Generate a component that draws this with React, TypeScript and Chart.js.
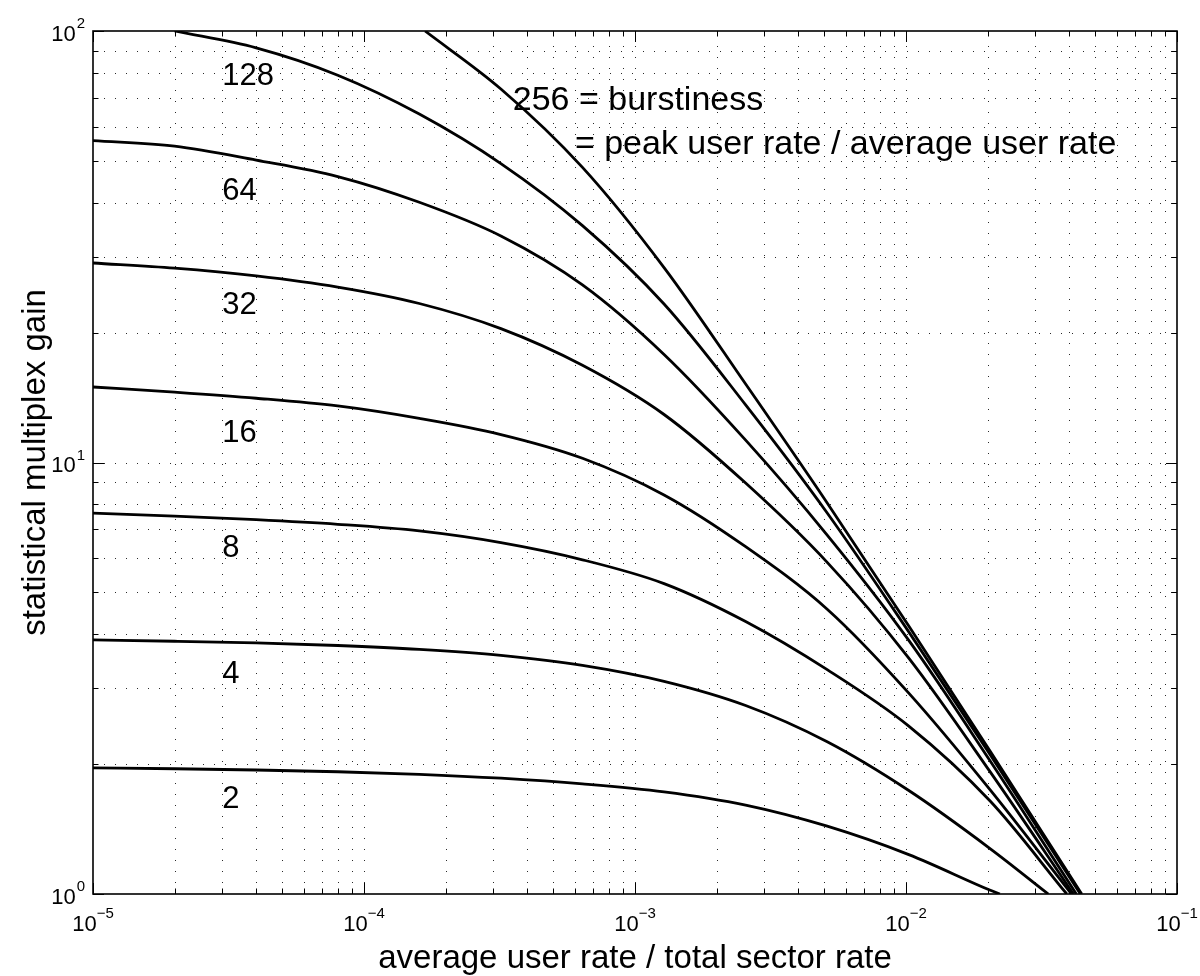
import React, { useEffect, useRef } from "react";
import { Chart, registerables } from "chart.js";

Chart.register(...registerables);

// ---- data (x = average user rate / total sector rate, y = gain) ----
const rates = [1e-5, 2e-5, 4e-5, 8e-5, 1.6e-4, 3.2e-4, 6.4e-4, 1.28e-3, 2.56e-3, 5.12e-3, 1.024e-2, 2.048e-2];

const x2 = [...rates, 0.0222];
const gain2 = [1.96, 1.951, 1.938, 1.92, 1.894, 1.855, 1.8, 1.725, 1.607, 1.436, 1.234, 1.02, 1];

const x4 = [...rates, 0.0335];
const gain4 = [3.88, 3.853, 3.818, 3.766, 3.689, 3.572, 3.387, 3.11, 2.734, 2.253, 1.737, 1.273, 1];

const x8 = [...rates, 0.0392];
const gain8 = [7.63, 7.51, 7.37, 7.19, 6.94, 6.52, 5.95, 5.24, 4.28, 3.31, 2.45, 1.64, 1];

const x16 = [...rates, 0.0408];
const gain16 = [14.96, 14.55, 14.09, 13.52, 12.65, 11.61, 10.23, 8.41, 6.38, 4.57, 2.92, 1.74, 1];

const x32 = [...rates, 0.0415];
const gain32 = [29.0, 28.21, 27.06, 25.49, 23.36, 20.43, 16.8, 12.92, 8.96, 5.87, 3.52, 1.916, 1];

const x64 = [...rates, 0.0425];
const gain64 = [55.7, 54.1, 50.2, 46.0, 40.1, 33.5, 25.8, 17.8, 11.27, 6.79, 3.87, 2.03, 1];

const x128 = [2e-5, 4e-5, 8e-5, 1.6e-4, 3.2e-4, 6.4e-4, 1.28e-3, 2.56e-3, 5.12e-3, 1.024e-2, 2.048e-2, 0.044];
const gain128 = [100, 91.4, 79.0, 64.2, 49.3, 35.4, 23.3, 13.6, 7.64, 4.05, 2.1, 1];

const x256 = [1.68e-4, 3.2e-4, 6.4e-4, 1.28e-3, 2.56e-3, 5.12e-3, 1.024e-2, 2.048e-2, 0.0445];
const gain256 = [100, 73.4, 48.3, 28.3, 15.2, 8.06, 4.18, 2.14, 1];

// curve labels (text anchored in data space)
const curveLabels = ["128", "64", "32", "16", "8", "4", "2"];
const curveLabelX = 3e-5;
const curveLabelY = [75.0, 40.6, 22.1, 11.17, 6.05, 3.08, 1.58];

const noteLines = ["256 = burstiness", "= peak user rate / average user rate"];
const noteX = [3.54e-4, 6.0e-4];
const noteY = [65.5, 51.8];

// axes
const xMajorExp = [-5, -4, -3, -2, -1];
const yMajorExp = [0, 1, 2];
const xTitle = "average user rate / total sector rate";
const yTitle = "statistical multiplex gain";

const FONT = "'Liberation Sans', Arial, Helvetica, sans-serif";

function logTicks(minExp: number, maxExp: number) {
  const major: number[] = [];
  const minor: number[] = [];
  for (let e = minExp; e <= maxExp; e++) {
    major.push(Math.pow(10, e));
    if (e < maxExp) for (let k = 2; k <= 9; k++) minor.push(k * Math.pow(10, e));
  }
  return { major, minor };
}

function expText(e: number) {
  return e < 0 ? "\u2212" + String(-e) : String(e);
}

const matlabAxes = {
  id: "matlabAxes",
  beforeDatasetsDraw(chart: any) {
    const { ctx, chartArea: a, scales } = chart;
    const xs = scales.x;
    const ys = scales.y;
    const xt = logTicks(-5, -1);
    const yt = logTicks(0, 2);
    ctx.save();
    ctx.strokeStyle = "#2a2a2a";
    ctx.lineWidth = 1;
    ctx.setLineDash([1, 10]);
    [...xt.major, ...xt.minor].forEach((v) => {
      const px = Math.round(xs.getPixelForValue(v)) + 0.5;
      if (px <= a.left + 1 || px >= a.right - 1) return;
      ctx.beginPath();
      ctx.moveTo(px, a.bottom);
      ctx.lineTo(px, a.top);
      ctx.stroke();
    });
    [...yt.major, ...yt.minor].forEach((v) => {
      const py = Math.round(ys.getPixelForValue(v)) + 0.5;
      if (py <= a.top + 1 || py >= a.bottom - 1) return;
      ctx.beginPath();
      ctx.moveTo(a.left, py);
      ctx.lineTo(a.right, py);
      ctx.stroke();
    });
    ctx.restore();
  },
  afterDatasetsDraw(chart: any) {
    const { ctx, chartArea: a, scales } = chart;
    const xs = scales.x;
    const ys = scales.y;
    const xt = logTicks(-5, -1);
    const yt = logTicks(0, 2);
    ctx.save();
    ctx.strokeStyle = "#000";
    ctx.setLineDash([]);
    ctx.lineWidth = 1;
    const tick = (vals: number[], len: number) => {
      vals.forEach((v) => {
        const px = Math.round(xs.getPixelForValue(v)) + 0.5;
        ctx.beginPath();
        ctx.moveTo(px, a.bottom);
        ctx.lineTo(px, a.bottom - len);
        ctx.moveTo(px, a.top);
        ctx.lineTo(px, a.top + len);
        ctx.stroke();
      });
    };
    const ytick = (vals: number[], len: number) => {
      vals.forEach((v) => {
        const py = Math.round(ys.getPixelForValue(v)) + 0.5;
        ctx.beginPath();
        ctx.moveTo(a.left, py);
        ctx.lineTo(a.left + len, py);
        ctx.moveTo(a.right, py);
        ctx.lineTo(a.right - len, py);
        ctx.stroke();
      });
    };
    tick(xt.major, 11);
    tick(xt.minor, 5.5);
    ytick(yt.major, 11);
    ytick(yt.minor, 5.5);
    ctx.lineWidth = 1.6;
    ctx.strokeRect(a.left, a.top, a.right - a.left, a.bottom - a.top);

    ctx.fillStyle = "#000";
    const big = "22px " + FONT;
    const small = "15px " + FONT;
    xMajorExp.forEach((e) => {
      const px = xs.getPixelForValue(Math.pow(10, e));
      ctx.font = big;
      const w1 = ctx.measureText("10").width;
      ctx.font = small;
      const w2 = ctx.measureText(expText(e)).width;
      const left = px - (w1 + w2) / 2;
      ctx.textAlign = "left";
      ctx.textBaseline = "alphabetic";
      ctx.font = big;
      ctx.fillText("10", left, a.bottom + 37);
      ctx.font = small;
      ctx.fillText(expText(e), left + w1, a.bottom + 24);
    });
    yMajorExp.forEach((e) => {
      const py = ys.getPixelForValue(Math.pow(10, e));
      ctx.font = small;
      const w2 = ctx.measureText(expText(e)).width;
      const right = a.left - 8;
      ctx.textAlign = "right";
      ctx.textBaseline = "alphabetic";
      ctx.fillText(expText(e), right, py - 3);
      ctx.font = big;
      ctx.fillText("10", right - w2 - 1, py + 9.5);
    });
    ctx.font = "33px " + FONT;
    ctx.textAlign = "center";
    ctx.textBaseline = "alphabetic";
    ctx.fillText(xTitle, (a.left + a.right) / 2, a.bottom + 74);
    ctx.save();
    ctx.translate(45, (a.top + a.bottom) / 2);
    ctx.rotate(-Math.PI / 2);
    ctx.fillText(yTitle, 0, 0);
    ctx.restore();

    ctx.textAlign = "left";
    ctx.font = "31px " + FONT;
    curveLabels.forEach((t, i) => {
      ctx.fillText(t, xs.getPixelForValue(curveLabelX), ys.getPixelForValue(curveLabelY[i]));
    });
    ctx.font = "34px " + FONT;
    noteLines.forEach((t, i) => {
      ctx.fillText(t, xs.getPixelForValue(noteX[i]), ys.getPixelForValue(noteY[i]));
    });
    ctx.restore();
  },
};

function series(xv: number[], yv: number[]) {
  return {
    data: xv.map((x, i) => ({ x, y: yv[i] })),
    showLine: true,
    borderColor: "#000",
    backgroundColor: "#000",
    borderWidth: 2.8,
    pointRadius: 0,
    pointHoverRadius: 0,
    cubicInterpolationMode: "monotone",
    fill: false,
    clip: 0,
  };
}

export default function App() {
  const ref = useRef<HTMLCanvasElement>(null);
  useEffect(() => {
    const canvas = ref.current;
    if (!canvas) return;
    const chart = new Chart(canvas, {
      type: "scatter",
      data: {
        datasets: [
          series(x2, gain2),
          series(x4, gain4),
          series(x8, gain8),
          series(x16, gain16),
          series(x32, gain32),
          series(x64, gain64),
          series(x128, gain128),
          series(x256, gain256),
        ] as any,
      },
      options: {
        responsive: false,
        animation: false,
        devicePixelRatio: 1,
        layout: { padding: { left: 93, right: 23, top: 31, bottom: 82 } },
        plugins: {
          legend: { display: false },
          tooltip: { enabled: false },
          title: { display: false },
        },
        events: [],
        scales: {
          x: { type: "logarithmic", min: 1e-5, max: 1e-1, display: false },
          y: { type: "logarithmic", min: 1, max: 100, display: false },
        },
      } as any,
      plugins: [matlabAxes],
    });
    return () => chart.destroy();
  }, []);
  return (
    <div style={{ position: "absolute", left: 0, top: 0, width: 1200, height: 976, background: "#fff" }}>
      <canvas ref={ref} width={1200} height={976} style={{ display: "block", width: 1200, height: 976 }} />
    </div>
  );
}
